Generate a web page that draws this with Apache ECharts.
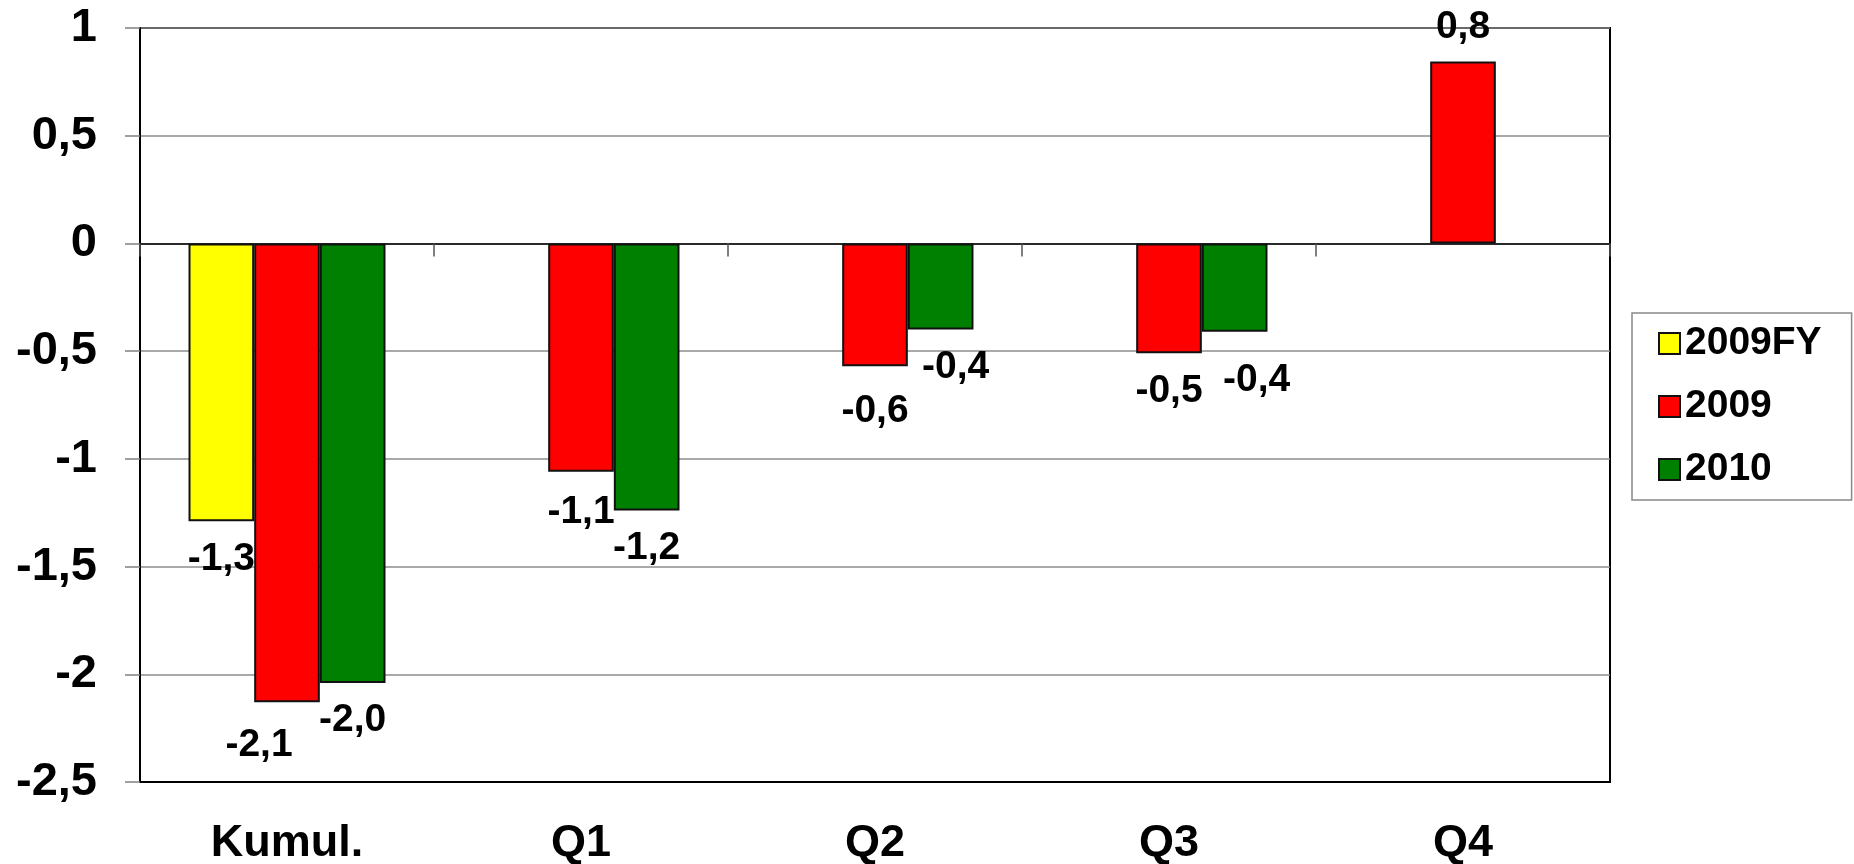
<!DOCTYPE html>
<html>
<head>
<meta charset="utf-8">
<script src="https://cdn.jsdelivr.net/npm/echarts@6/dist/echarts.min.js"></script>
<style>
html,body{margin:0;padding:0;background:#fff;}
#chart{width:1854px;height:864px;}
</style>
</head>
<body>
<div id="chart"></div>
<script>
// ---- data ----
const categories = ['Kumul.', 'Q1', 'Q2', 'Q3', 'Q4'];
const seriesNames = ['2009FY', '2009', '2010'];
const values2009FY = [-1.29, null, null, null, null];
const values2009 = [-2.13, -1.06, -0.57, -0.51, 0.845];
const values2010 = [-2.04, -1.24, -0.40, -0.41, null];
const yTicks = [-2.5, -2, -1.5, -1, -0.5, 0, 0.5, 1];

// ---- styling ----
const FONT = 'Arial, "Liberation Sans", sans-serif';
const colors = ['#FFFF00', '#FF0000', '#008000'];
// label nudges [dx, dy] in px (Excel-like label placement)
const labelShift = {
  '2009': { 0: [-28, 5], 1: [0, 3], 2: [0, 8], 4: [0, 3] },
  '2010': { 2: [15, 0], 3: [22, 11] }
};
const allValues = [values2009FY, values2009, values2010];

const fmt = v => (Math.round(v * 10) / 10).toFixed(1).replace('.', ',');

const series = seriesNames.map((name, si) => ({
  name: name,
  type: 'bar',
  xAxisIndex: 0,
  barGap: '0%',
  barCategoryGap: '33%',
  itemStyle: { color: colors[si], borderColor: '#111', borderWidth: 2 },
  label: {
    show: true,
    position: 'outside',
    distance: 18,
    fontFamily: FONT,
    fontSize: 39,
    fontWeight: 'bold',
    color: '#000',
    formatter: p => (p.value == null ? '' : fmt(p.value))
  },
  data: allValues[si].map((v, i) => {
    const off = labelShift[name] && labelShift[name][i];
    return off ? { value: v, label: { offset: off } } : v;
  })
}));

const chart = echarts.init(document.getElementById('chart'), null, { renderer: 'canvas' });
chart.setOption({
  animation: false,
  backgroundColor: '#fff',
  grid: {
    left: 140, top: 28, right: 244, bottom: 82,
    containLabel: false,
    outerBoundsMode: 'none',
    show: true, borderColor: '#000', borderWidth: 2, backgroundColor: 'transparent'
  },
  legend: {
    orient: 'vertical',
    left: 1632, top: 313,
    padding: [11, 30, 11, 26],
    itemGap: 24,
    itemWidth: 21, itemHeight: 21,
    icon: 'rect',
    borderColor: '#888', borderWidth: 1.5,
    data: seriesNames,
    textStyle: { fontFamily: FONT, fontSize: 39, fontWeight: 'bold', color: '#000' }
  },
  xAxis: [
    {
      type: 'category',
      data: categories,
      position: 'bottom',
      axisLine: { show: true, onZero: false, lineStyle: { color: '#000', width: 2 } },
      axisTick: { show: false },
      axisLabel: { fontFamily: FONT, fontSize: 45, fontWeight: 'bold', color: '#000', margin: 39 },
      splitLine: { show: false }
    },
    {
      type: 'category',
      data: categories,
      position: 'bottom',
      axisLine: { show: true, onZero: true, lineStyle: { color: '#000', width: 1.5 } },
      axisTick: { show: true, length: 13, lineStyle: { color: '#555', width: 1.5 } },
      axisLabel: { show: false },
      splitLine: { show: false }
    }
  ],
  yAxis: {
    type: 'value',
    min: yTicks[0],
    max: yTicks[yTicks.length - 1],
    interval: 0.5,
    axisLine: { show: true, lineStyle: { color: '#000', width: 2 } },
    axisTick: { show: true, length: 15, lineStyle: { color: '#808080', width: 1.5 } },
    axisLabel: {
      fontFamily: FONT, fontSize: 47, fontWeight: 'bold', color: '#000', margin: 43,
      formatter: v => String(v).replace('.', ',')
    },
    splitLine: { show: true, lineStyle: { color: '#8c8c8c', width: 1.5 } }
  },
  series: series
});
</script>
</body>
</html>
